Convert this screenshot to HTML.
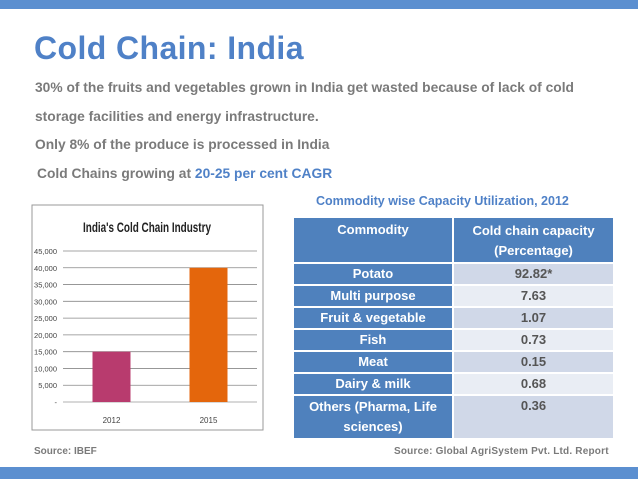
<!DOCTYPE html>
<html><head><meta charset="utf-8"><style>
body{margin:0;width:638px;height:479px;position:relative;background:#fff;font-family:"Liberation Sans",sans-serif;overflow:hidden}
.abs{position:absolute}
.txt{left:35px;font-size:13.8px;font-weight:bold;color:#7a7a7a;white-space:nowrap}
table{border-collapse:separate;border-spacing:0 2px}
td{font-size:13px;font-weight:bold;text-align:center;padding:0;height:20px;line-height:20px}
td.l{background:#4f81bd;color:#fff;width:158px;border-right:2px solid #fff}
td.r{color:#555;width:159px}
tr.o td.r{background:#d0d8e8}
tr.e td.r{background:#e9edf4}
</style></head><body>
<div class="abs" style="left:0;top:0;width:638px;height:9px;background:#5b8fd0"></div>
<div class="abs" style="left:34px;top:30px;font-size:32px;font-weight:bold;color:#4f81c7;letter-spacing:0.4px">Cold Chain: India</div>
<div class="abs txt" style="top:80px">30% of the fruits and vegetables grown in India get wasted because of lack of cold</div>
<div class="abs txt" style="top:109px">storage facilities and energy infrastructure.</div>
<div class="abs txt" style="top:137px">Only 8% of the produce is processed in India</div>
<div class="abs txt" style="top:166px;left:37px">Cold Chains growing at <span style="color:#4f81c7">20-25 per cent CAGR</span></div>

<svg class="abs" style="left:0;top:0" width="638" height="479" id="chart">
<rect x="32" y="205" width="231" height="225" fill="#fff" stroke="#999" stroke-width="1"/>
<text x="147" y="232" text-anchor="middle" font-size="14" font-weight="bold" fill="#222" textLength="128" lengthAdjust="spacingAndGlyphs">India's Cold Chain Industry</text>
</svg>
<script>
const categories=["2012","2015"];
const values=[15000,40000];
const ticks=[0,5000,10000,15000,20000,25000,30000,35000,40000,45000];
const tickLabels=["-","5,000","10,000","15,000","20,000","25,000","30,000","35,000","40,000","45,000"];
const colors=["#b83b6e","#e4660c"];
const svg=document.getElementById('chart');const NS="http://www.w3.org/2000/svg";
const y0=402,y1=251,vmax=45000,xl=63,xr=257;
const y=v=>y0-(v/vmax)*(y0-y1);
const bw=(xr-xl)/categories.length;
const x=i=>xl+bw*(i+0.5);
ticks.forEach((t,i)=>{
 const l=document.createElementNS(NS,'line');
 l.setAttribute('x1',xl);l.setAttribute('x2',xr);l.setAttribute('y1',y(t));l.setAttribute('y2',y(t));
 l.setAttribute('stroke',i==0?'#999':'#888');l.setAttribute('stroke-width','0.8');
 
 
 svg.appendChild(l);
 const tx=document.createElementNS(NS,'text');
 tx.setAttribute('x',57);tx.setAttribute('y',y(t)+3);tx.setAttribute('text-anchor','end');tx.setAttribute('font-size','7.5');tx.setAttribute('fill','#444');
 tx.textContent=tickLabels[i];
 
 
 svg.appendChild(tx);
});
categories.forEach((c,i)=>{
 const r=document.createElementNS(NS,'rect');
 r.setAttribute('x',x(i)-19);r.setAttribute('width',38);r.setAttribute('y',y(values[i]));r.setAttribute('height',y0-y(values[i]));r.setAttribute('fill',colors[i]);
 
 
 svg.appendChild(r);
 const tx=document.createElementNS(NS,'text');
 tx.setAttribute('x',x(i));tx.setAttribute('y',423);tx.setAttribute('text-anchor','middle');tx.setAttribute('font-size','8');tx.setAttribute('fill','#444');
 tx.textContent=c;
 
 
 svg.appendChild(tx);
});
</script>

<div class="abs" style="left:316px;top:194px;font-size:12.5px;font-weight:bold;color:#4f81c7;white-space:nowrap">Commodity wise Capacity Utilization, 2012</div>
<table class="abs" style="left:294px;top:216px">
<tr><td class="l" style="height:42px;line-height:20px;vertical-align:top;padding-top:2px">Commodity</td><td class="l" style="border-right:0;height:42px;line-height:20px;padding-top:2px">Cold chain capacity<br>(Percentage)</td></tr>
<tr class="o"><td class="l">Potato</td><td class="r">92.82*</td></tr>
<tr class="e"><td class="l">Multi purpose</td><td class="r">7.63</td></tr>
<tr class="o"><td class="l">Fruit &amp; vegetable</td><td class="r">1.07</td></tr>
<tr class="e"><td class="l">Fish</td><td class="r">0.73</td></tr>
<tr class="o"><td class="l">Meat</td><td class="r">0.15</td></tr>
<tr class="e"><td class="l">Dairy &amp; milk</td><td class="r">0.68</td></tr>
<tr class="o"><td class="l" style="height:42px">Others (Pharma, Life<br>sciences)</td><td class="r" style="vertical-align:top">0.36</td></tr>
</table>
<div class="abs" style="left:34px;top:446px;font-size:10px;font-weight:bold;color:#7a7a7a">Source: IBEF</div>
<div class="abs" style="left:394px;top:446px;font-size:10px;font-weight:bold;color:#7a7a7a;white-space:nowrap;letter-spacing:0.2px">Source: Global AgriSystem Pvt. Ltd. Report</div>
<div class="abs" style="left:0;top:467px;width:638px;height:12px;background:#5b8fd0"></div>
</body></html>
